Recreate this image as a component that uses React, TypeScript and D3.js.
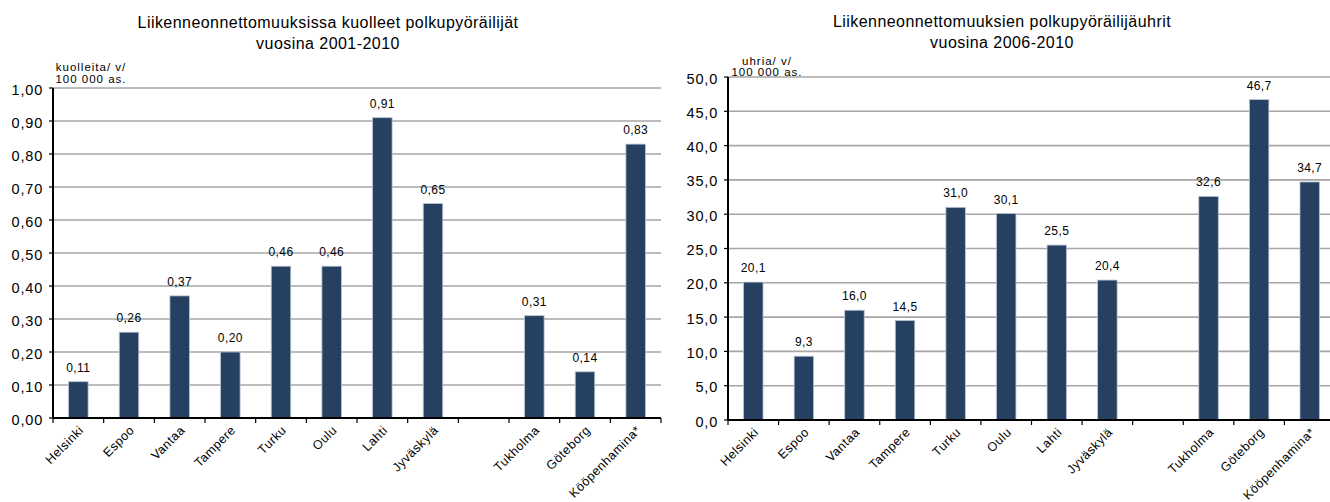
import React from "react";
import * as d3 from "d3";

// Cities on the horizontal axis; the empty slot separates Finnish and Nordic cities.
const CITIES = [
  "Helsinki",
  "Espoo",
  "Vantaa",
  "Tampere",
  "Turku",
  "Oulu",
  "Lahti",
  "Jyväskylä",
  "",
  "Tukholma",
  "Göteborg",
  "Kööpenhamina*",
];

// Cyclist deaths per year per 100 000 inhabitants, 2001-2010.
const DEATHS: (number | null)[] = [0.11, 0.26, 0.37, 0.2, 0.46, 0.46, 0.91, 0.65, null, 0.31, 0.14, 0.83];

// Cyclist casualties per year per 100 000 inhabitants, 2006-2010.
const VICTIMS: (number | null)[] = [20.1, 9.3, 16.0, 14.5, 31.0, 30.1, 25.5, 20.4, null, 32.6, 46.7, 34.7];

const DEATH_TICKS = [0, 0.1, 0.2, 0.3, 0.4, 0.5, 0.6, 0.7, 0.8, 0.9, 1.0];
const VICTIM_TICKS = [0, 5, 10, 15, 20, 25, 30, 35, 40, 45, 50];

const LEFT_TITLE = ["Liikenneonnettomuuksissa kuolleet polkupyöräilijät", "vuosina 2001-2010"];
const RIGHT_TITLE = ["Liikenneonnettomuuksien polkupyöräilijäuhrit", "vuosina 2006-2010"];
const LEFT_UNIT = ["kuolleita/ v/", "100 000 as."];
const RIGHT_UNIT = ["uhria/ v/", "100 000 as."];

const FONT = "'Liberation Sans', Arial, sans-serif";
const BAR = "#254061";
const BAR_EDGE = "#b9c4d6";
const GRID = "#a6a6a6";

const fmt = (decimals: number) => {
  const f = d3.format(`.${decimals}f`);
  return (v: number) => f(v).replace(".", ",");
};

type ChartProps = {
  title: string[];
  unit: string[];
  values: (number | null)[];
  ticks: number[];
  decimals: number;
  left: number;
  right: number;
  top: number;
  bottom: number;
  titleX: number;
  titleY: number[];
  unitX: number;
  unitY: number[];
};

function BarChart(p: ChartProps) {
  const n = CITIES.length;
  const x = d3
    .scaleBand<number>()
    .domain(d3.range(n))
    .range([p.left, p.right])
    .paddingInner(0.615)
    .paddingOuter(0.3075);
  const step = x.step();
  const yMax = p.ticks[p.ticks.length - 1];
  const y = d3.scaleLinear().domain([0, yMax]).range([p.bottom, p.top]);
  const f = fmt(p.decimals);

  return (
    <g fontFamily={FONT} fill="#000">
      {p.title.map((t, i) => (
        <text
          key={"t" + i}
          x={p.titleX}
          y={p.titleY[i]}
          textAnchor="middle"
          fontSize={16}
          letterSpacing={0.45}
        >
          {t}
        </text>
      ))}
      {p.unit.map((t, i) => (
        <text
          key={"u" + i}
          x={p.unitX}
          y={p.unitY[i]}
          textAnchor="middle"
          fontSize={11.5}
          letterSpacing={1}
        >
          {t}
        </text>
      ))}

      {/* horizontal gridlines */}
      {p.ticks
        .filter((t) => t > 0)
        .map((t) => (
          <line
            key={"g" + t}
            x1={p.left}
            x2={p.right}
            y1={y(t)}
            y2={y(t)}
            stroke={GRID}
            strokeWidth={1.6}
          />
        ))}

      {/* y tick labels and tick marks */}
      {p.ticks.map((t) => (
        <g key={"y" + t}>
          <line x1={p.left - 4} x2={p.left} y1={y(t)} y2={y(t)} stroke="#000" strokeWidth={1.2} />
          <text x={p.left - 10} y={y(t) + 6.5} textAnchor="end" fontSize={14.5} letterSpacing={0.8}>
            {f(t)}
          </text>
        </g>
      ))}

      {/* bars with value labels */}
      {p.values.map((v, i) =>
        v == null ? null : (
          <g key={"b" + i}>
            <rect
              x={x(i)}
              y={y(v)}
              width={x.bandwidth()}
              height={y(0) - y(v)}
              fill={BAR}
              stroke={BAR_EDGE}
              strokeWidth={0.8}
            />
            <text
              x={(x(i) as number) + x.bandwidth() / 2}
              y={y(v) - 10}
              textAnchor="middle"
              fontSize={12}
              letterSpacing={0.4}
            >
              {f(v)}
            </text>
          </g>
        )
      )}

      {/* axes */}
      <line x1={p.left} x2={p.left} y1={p.top} y2={p.bottom} stroke="#000" strokeWidth={2} />
      <line x1={p.left} x2={p.right} y1={p.bottom} y2={p.bottom} stroke="#000" strokeWidth={2} />
      {d3.range(n + 1).map((i) => (
        <line
          key={"xt" + i}
          x1={p.left + i * step}
          x2={p.left + i * step}
          y1={p.bottom}
          y2={p.bottom + 5}
          stroke="#000"
          strokeWidth={1.2}
        />
      ))}

      {/* rotated category labels */}
      {CITIES.map((c, i) => {
        const cx = (x(i) as number) + x.bandwidth() / 2;
        return (
          <text
            key={"c" + i}
            transform={`translate(${cx + 6},${p.bottom + 13}) rotate(-45)`}
            textAnchor="end"
            fontSize={12.5}
            letterSpacing={0.5}
          >
            {c}
          </text>
        );
      })}
    </g>
  );
}

export default function App() {
  return (
    <svg
      width={1330}
      height={502}
      style={{ position: "fixed", left: 0, top: 0, background: "#fff" }}
    >
      <rect width={1330} height={502} fill="#fff" />
      <BarChart
        title={LEFT_TITLE}
        unit={LEFT_UNIT}
        values={DEATHS}
        ticks={DEATH_TICKS}
        decimals={2}
        left={53}
        right={661}
        top={88}
        bottom={418}
        titleX={328}
        titleY={[28, 49]}
        unitX={91}
        unitY={[71, 83]}
      />
      <BarChart
        title={RIGHT_TITLE}
        unit={RIGHT_UNIT}
        values={VICTIMS}
        ticks={VICTIM_TICKS}
        decimals={1}
        left={728}
        right={1335}
        top={77}
        bottom={420}
        titleX={1002}
        titleY={[27, 48]}
        unitX={767}
        unitY={[65, 76]}
      />
    </svg>
  );
}
